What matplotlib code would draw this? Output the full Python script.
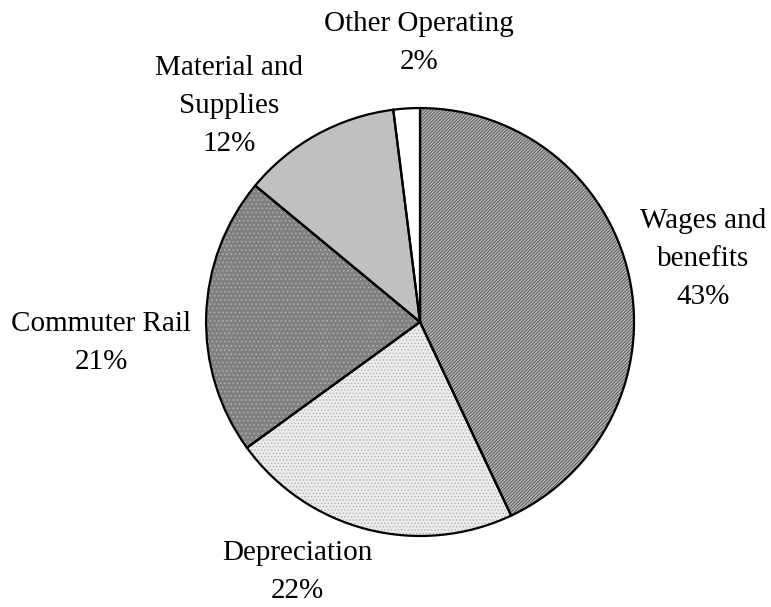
import numpy as np
import matplotlib
matplotlib.use('Agg')
import matplotlib.pyplot as plt

plt.rcParams['font.family'] = ['Liberation Serif', 'DejaVu Serif']

## DATA ##########################
categories = ['Wages and\nbenefits', 'Depreciation', 'Commuter Rail',
              'Material and\nSupplies', 'Other Operating']
shares = [43, 22, 21, 12, 2]
##################################

face_colors = ['#b4b4b4', '#ececec', '#808080', '#c0c0c0', '#ffffff']
hatches = ['//////////', '.....', '....', '', '']
hatch_colors = ['#505050', '#b0b0b0', '#b4b4b4', '#c0c0c0', '#ffffff']
# label spots (data units, pie radius = 1)
label_xy = [(1.322, 0.294), (-0.575, -1.168), (-1.491, -0.098),
            (-0.893, 1.009), (-0.005, 1.304)]

fig = plt.figure(figsize=(7.71, 6.07), dpi=100)
ax = fig.add_axes([0, 0, 1, 1])

kw = dict(startangle=90, counterclock=False, radius=1)
ax.pie(shares, colors=face_colors, wedgeprops=dict(linewidth=0), **kw)
plt.rcParams['hatch.linewidth'] = 0.6
wedges, _ = ax.pie(shares, wedgeprops=dict(facecolor='none', linewidth=0), **kw)
for w, h, c in zip(wedges, hatches, hatch_colors):
    w.set_facecolor('none')
    w.set_hatch(h)
    w.set_edgecolor(c)
ax.pie(shares, wedgeprops=dict(facecolor='none', edgecolor='black', linewidth=1.6), **kw)

for lab, val, (x, y) in zip(categories, shares, label_xy):
    ax.text(x, y, '{}\n{}%'.format(lab, val), ha='center', va='center',
            fontsize=21, linespacing=1.6)

ax.set_xlim(-1.963, 1.640)
ax.set_ylim(-1.332, 1.505)
ax.set_aspect('equal')
ax.axis('off')

fig.savefig('out.png', dpi=100)
